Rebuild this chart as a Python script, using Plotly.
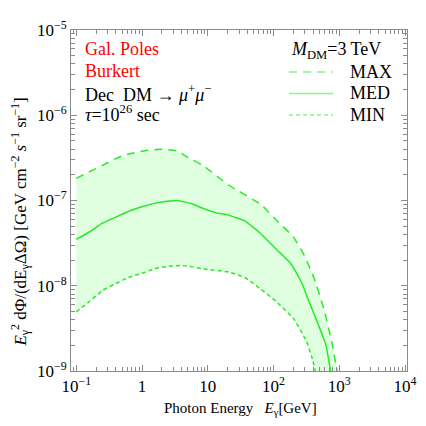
import plotly.graph_objects as go

# Valores (E em GeV, fluxo em GeV cm^-2 s^-1 sr^-1)
e_max = [0.1, 0.158, 0.25, 0.39, 0.62, 1.09, 1.9, 3.4, 5.0, 8.4, 20.7, 64, 113, 200, 300, 419, 589, 780, 925]
flux_max = [1.82e-7, 2.17e-7, 2.58e-7, 3.08e-7, 3.51e-7, 3.83e-7, 4.0e-7, 3.83e-7, 3.2e-7, 2.58e-7,
            1.52e-7, 9.0e-8, 5.8e-8, 3.74e-8, 2.2e-8, 1.2e-8, 5.2e-9, 2.07e-9, 1.0e-9]

e_med = [0.1, 0.158, 0.25, 0.39, 0.62, 1.09, 1.53, 2.4, 3.4, 5.6, 8.4, 13.2, 20.7, 36, 64, 113, 142,
         179, 251, 281, 333, 416, 621, 736]
flux_med = [3.49e-8, 4.27e-8, 5.42e-8, 6.33e-8, 7.43e-8, 8.6e-8, 9.25e-8, 9.8e-8, 1.0e-7, 9.2e-8, 8.1e-8,
            7.2e-8, 6.74e-8, 5.8e-8, 4.08e-8, 2.63e-8, 2.23e-8, 1.86e-8, 1.2e-8, 1.0e-8, 7.06e-9, 4.6e-9,
            2.07e-9, 1.0e-9]

e_min = [0.1, 0.158, 0.25, 0.39, 0.62, 1.09, 1.53, 2.4, 3.8, 5.0, 8.4, 20.7, 36.6, 64, 107, 200, 315, 395, 433]
flux_min = [4.95e-9, 6.5e-9, 8.8e-9, 1.05e-8, 1.25e-8, 1.43e-8, 1.58e-8, 1.68e-8, 1.73e-8, 1.7e-8, 1.58e-8,
            1.45e-8, 1.25e-8, 9.1e-9, 6.65e-9, 4.14e-9, 2.26e-9, 1.34e-9, 1.0e-9]

x_ticks = [1e-1, 1, 10, 1e2, 1e3, 1e4]
x_ticktext = ["10<sup>−1</sup>", "1", "10", "10<sup>2</sup>", "10<sup>3</sup>", "10<sup>4</sup>"]
y_ticks = [1e-9, 1e-8, 1e-7, 1e-6, 1e-5]
y_ticktext = ["10<sup>−9</sup>", "10<sup>−8</sup>", "10<sup>−7</sup>", "10<sup>−6</sup>", "10<sup>−5</sup>"]

series = ["MAX", "MED", "MIN"]

GREEN = "rgb(40,235,40)"
GREEN_LEG = "rgb(130,248,130)"
FILL = "rgb(224,254,224)"
AXIS = "#8a8a8a"
SERIF = "Liberation Serif"

dashes = {"MAX": "8px,6px", "MED": "solid", "MIN": "4px,3px"}

fig = go.Figure()

# faixa entre MAX e MIN
fig.add_trace(go.Scatter(
    x=e_max + e_min[::-1],
    y=flux_max + flux_min[::-1],
    fill="toself", fillcolor=FILL, mode="none",
    showlegend=False, hoverinfo="skip",
))

for name, xs, ys in [("MAX", e_max, flux_max), ("MED", e_med, flux_med), ("MIN", e_min, flux_min)]:
    fig.add_trace(go.Scatter(
        x=xs, y=ys, mode="lines", showlegend=False,
        line=dict(color=GREEN, width=1.5, dash=dashes[name], shape="spline", smoothing=0.4),
    ))

minor_x = [m * 10.0 ** k for k in range(-2, 4) for m in range(2, 10)]
minor_y = [m * 10.0 ** k for k in range(-10, -5) for m in range(2, 10)]

axis_common = dict(
    type="log", showgrid=False, zeroline=False,
    showline=True, linecolor=AXIS, linewidth=1, mirror="ticks",
    ticks="inside", ticklen=6, tickcolor=AXIS, tickwidth=1,
    tickfont=dict(family=SERIF, size=17, color="black"),
)

fig.update_xaxes(
    range=[-1.08, 4.03], tickmode="array", tickvals=x_ticks, ticktext=x_ticktext,
    minor=dict(tickmode="array", tickvals=minor_x, ticks="inside", ticklen=4, tickcolor=AXIS),
    **axis_common,
)
fig.update_yaxes(
    range=[-9, -5], tickmode="array", tickvals=y_ticks, ticktext=y_ticktext,
    minor=dict(tickmode="array", tickvals=minor_y, ticks="inside", ticklen=4, tickcolor=AXIS),
    **axis_common,
)

# textos no canto superior esquerdo
annotations = [
    dict(text="Gal. Poles", y=0.943, color="red"),
    dict(text="Burkert", y=0.881, color="red"),
    dict(text="Dec\u00a0\u00a0DM → <i>μ</i><sup>+</sup><i>μ</i><sup>−</sup>", y=0.813, color="black"),
    dict(text="<i>τ</i>=10<sup>26</sup> sec", y=0.754, color="black"),
]
for a in annotations:
    fig.add_annotation(
        text=a["text"], x=0.035, y=a["y"], xref="paper", yref="paper",
        xanchor="left", yanchor="middle", showarrow=False,
        font=dict(family=SERIF, size=18, color=a["color"]),
    )

# legenda desenhada à mão (amostras de 45 px como no original)
fig.add_annotation(
    text="<i>M</i><sub>DM</sub>=3 TeV", x=0.649, y=0.94, xref="paper", yref="paper",
    xanchor="left", yanchor="middle", showarrow=False,
    font=dict(family=SERIF, size=18, color="black"),
)
leg_y = {"MAX": 0.877, "MED": 0.814, "MIN": 0.751}
for name in series:
    fig.add_shape(
        type="line", xref="paper", yref="paper",
        x0=0.649, x1=0.780, y0=leg_y[name], y1=leg_y[name],
        line=dict(color=GREEN_LEG, width=1.5, dash=dashes[name]),
    )
    fig.add_annotation(
        text=name, x=0.823, y=leg_y[name], xref="paper", yref="paper",
        xanchor="left", yanchor="middle", showarrow=False,
        font=dict(family=SERIF, size=18, color="black"),
    )

fig.add_annotation(
    text="<i>E</i><sub>γ</sub><sup>2</sup> dΦ/(dE<sub>γ</sub>ΔΩ) [GeV cm<sup>−2</sup> <i>s</i><sup>−1</sup> sr<sup>−1</sup>]",
    x=-0.150, y=0.437, xref="paper", yref="paper", textangle=-90,
    xanchor="center", yanchor="middle",
    showarrow=False, font=dict(family=SERIF, size=17, color="black"),
)
fig.add_annotation(
    text="Photon Energy\u00a0\u00a0\u00a0<i>E</i><sub>γ</sub>[GeV]",
    x=0.504, y=-0.111, xref="paper", yref="paper",
    xanchor="center", yanchor="middle",
    showarrow=False, font=dict(family=SERIF, size=15, color="black"),
)

# a página tem 8 px de margem no body: figura de 418 px cabe na janela de 426
fig.update_layout(
    width=418, height=418,
    margin=dict(l=63, r=10, t=13, b=55),
    plot_bgcolor="white", paper_bgcolor="white",
    showlegend=False,
)

fig.write_html("out.html")
